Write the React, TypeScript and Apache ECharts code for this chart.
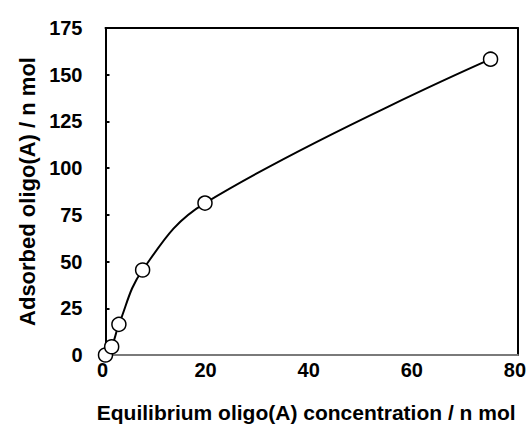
import React, { useEffect, useRef } from "react";
import * as echarts from "echarts";

const xValues = [0, 1.2, 2.6, 7.2, 19.3, 74.7];
const yValues = [0, 4.4, 16.4, 45.5, 81.3, 158.3];
const xTitle = "Equilibrium oligo(A) concentration / n mol";
const yTitle = "Adsorbed oligo(A) / n mol";

export default function App() {
  const ref = useRef<HTMLDivElement>(null);
  useEffect(() => {
    if (!ref.current) return;
    const chart = echarts.init(ref.current, null, { renderer: "svg" });
    const font = "'Liberation Sans', Arial, Helvetica, sans-serif";
    const data = xValues.map((x, i) => [x, yValues[i]]);
    chart.setOption({
      animation: false,
      backgroundColor: "#ffffff",
      grid: { left: 105.5, right: 10, top: 28, bottom: 72, containLabel: false },
      xAxis: [
        {
          type: "value",
          min: 0,
          max: 80,
          interval: 20,
          position: "bottom",
          name: xTitle,
          nameLocation: "middle",
          nameGap: 47,
          nameTextStyle: {
            fontFamily: font,
            fontWeight: "bold",
            fontSize: 21,
            color: "#000",
            padding: [0, 11, 0, 0],
          },
          axisLine: { show: true, onZero: false, lineStyle: { color: "#7a7a7a", width: 2 } },
          axisTick: { show: false },
          axisLabel: {
            margin: 5,
            fontFamily: font,
            fontWeight: "bold",
            fontSize: 20,
            color: "#000",
            padding: [0, 6, 0, 0],
          },
          splitLine: { show: false },
        },
        {
          type: "value",
          min: 0,
          max: 80,
          position: "top",
          axisLine: { show: true, onZero: false, lineStyle: { color: "#000", width: 2 } },
          axisTick: { show: false },
          axisLabel: { show: false },
          splitLine: { show: false },
        },
      ],
      yAxis: [
        {
          type: "value",
          min: 0,
          max: 175,
          interval: 25,
          position: "left",
          name: yTitle,
          nameLocation: "middle",
          nameGap: 65,
          nameTextStyle: {
            fontFamily: font,
            fontWeight: "bold",
            fontSize: 22,
            color: "#000",
          },
          axisLine: { show: true, onZero: false, lineStyle: { color: "#000", width: 2 } },
          axisTick: { show: true, inside: true, length: 4, lineStyle: { color: "#000", width: 2 } },
          axisLabel: { margin: 23, fontFamily: font, fontWeight: "bold", fontSize: 20, color: "#000" },
          splitLine: { show: false },
        },
        {
          type: "value",
          min: 0,
          max: 175,
          position: "right",
          axisLine: { show: true, onZero: false, lineStyle: { color: "#000", width: 2 } },
          axisTick: { show: false },
          axisLabel: { show: false },
          splitLine: { show: false },
        },
      ],
      series: [
        {
          type: "line",
          data,
          smooth: 0.4,
          symbol: "circle",
          symbolSize: 14,
          showAllSymbol: true,
          lineStyle: { color: "#000", width: 2 },
          itemStyle: { color: "#fff", borderColor: "#000", borderWidth: 1.5 },
          z: 5,
        },
      ],
    });
    return () => chart.dispose();
  }, []);
  return (
    <div
      ref={ref}
      style={{ position: "absolute", left: 0, top: 0, width: 529, height: 428 }}
    />
  );
}
